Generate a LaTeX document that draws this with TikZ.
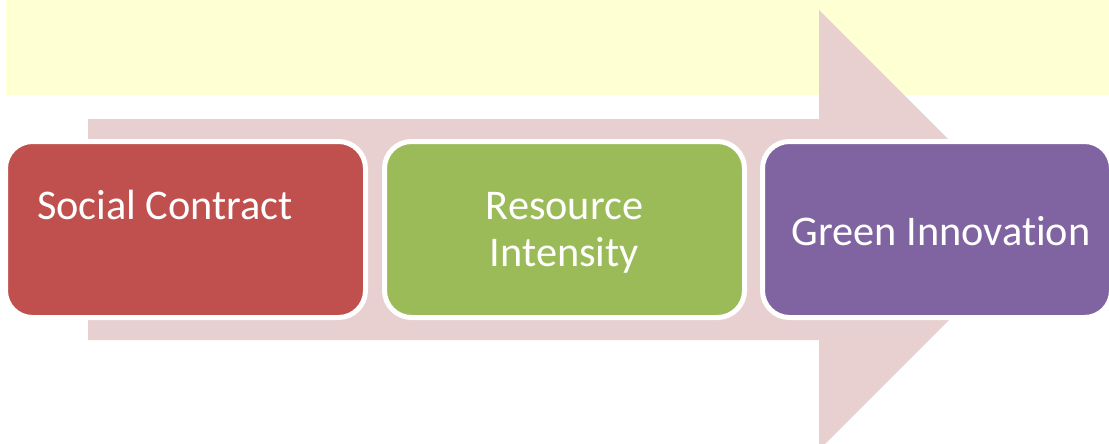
\documentclass[tikz,border=0pt]{standalone}
\usepackage{fontspec}
\setmainfont{Carlito}[Ligatures={NoCommon}]
\definecolor{bandyellow}{RGB}{255,255,212}
\definecolor{arrowpink}{RGB}{232,208,209}
\definecolor{boxred}{RGB}{192,80,77}
\definecolor{boxgreen}{RGB}{155,187,89}
\definecolor{boxpurple}{RGB}{128,100,162}
\tikzset{
  stagebox/.style={rectangle, rounded corners=27pt, draw=white, line width=5pt,
    inner sep=0pt, outer sep=0pt, minimum height=176pt},
  stagetext/.style={text=white, inner sep=0pt, outer sep=0pt,
    font=\fontsize{42.3}{47}\selectfont}
}
\begin{document}
\begin{tikzpicture}[x=1pt,y=-1pt]
\useasboundingbox (0,0) rectangle (1109,444);
\clip (0,0) rectangle (1109,444);
% pale yellow band along the top
\fill[bandyellow] (6,0) rectangle (1109,95);
% broad block arrow running left to right behind the stages
\fill[arrowpink] (88,119) -- (819,119) -- (819,10) -- (1039,230)
  -- (819,450) -- (819,340) -- (88,340) -- cycle;
% the three stages
\node[stagebox, fill=boxred, minimum width=360pt] (social) at (185.5,229.5) {};
\node[stagebox, fill=boxgreen, minimum width=360pt] (resource) at (564.5,229.5) {};
\node[stagebox, fill=boxpurple, minimum width=349pt] (green) at (937,229.5) {};
% stage labels
\node[stagetext, anchor=base west] (socialtext) at (37,219) {Social Contract};
\node[stagetext, anchor=base] (resourcetext1) at (564.5,219) {Resource};
\node[stagetext, anchor=base] (resourcetext2) at (564.5,266) {Intensity};
\node[stagetext, anchor=base] (greentext) at (941,245) {Green Innovation};
\end{tikzpicture}
\end{document}
